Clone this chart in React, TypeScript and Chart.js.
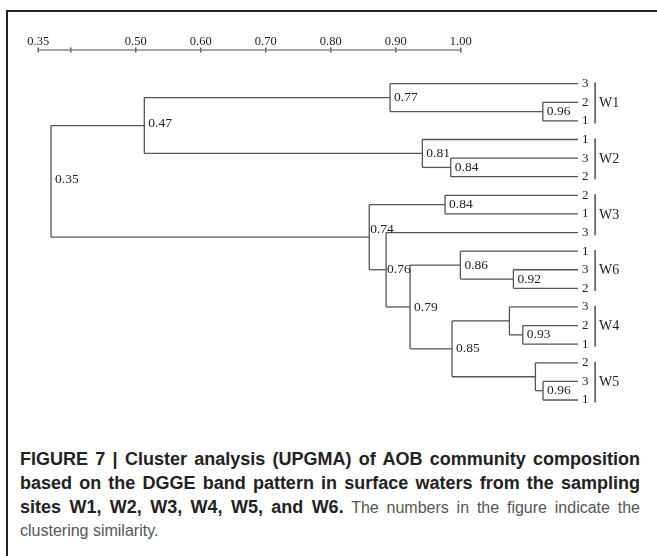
import React, { useEffect, useRef } from 'react';
import { Chart, registerables } from 'chart.js';

Chart.register(...registerables);

// Ruler (top scale)
const rulerTicks = [0.35, 0.4, 0.5, 0.6, 0.7, 0.8, 0.9, 1.0];
const rulerTickLabels = ['0.35', '', '0.50', '0.60', '0.70', '0.80', '0.90', '1.00'];

// Leaves, top to bottom
const leafLabels = ['3', '2', '1', '1', '3', '2', '2', '1', '3', '1', '3', '2', '3', '2', '1', '2', '3', '1'];
const groupNames = ['W1', 'W2', 'W3', 'W6', 'W4', 'W5'];
const groupFirstLeaf = [0, 3, 6, 9, 12, 15];
const groupLastLeaf = [2, 5, 8, 11, 14, 17];

// Internal nodes: id, position read on the ruler, printed similarity, children
const nodeIds = ['n96a', 'n77', 'n84a', 'n81', 'n47', 'n84b', 'n92', 'n86', 'n93', 'nW4', 'n96b', 'nW5', 'n85', 'n79', 'n76', 'n74', 'n35'];
const nodeX = [1.1262, 0.8912, 0.9846, 0.9409, 0.5132, 0.9758, 1.0809, 0.9994, 1.0954, 1.0748, 1.1265, 1.1148, 0.9866, 0.922, 0.8851, 0.8592, 0.3697];
const nodeLabels = ['0.96', '0.77', '0.84', '0.81', '0.47', '0.84', '0.92', '0.86', '0.93', '', '0.96', '', '0.85', '0.79', '0.76', '0.74', '0.35'];
const nodeChildren = [
  ['L1', 'L2'],
  ['L0', 'n96a'],
  ['L4', 'L5'],
  ['L3', 'n84a'],
  ['n77', 'n81'],
  ['L6', 'L7'],
  ['L10', 'L11'],
  ['L9', 'n92'],
  ['L13', 'L14'],
  ['L12', 'n93'],
  ['L16', 'L17'],
  ['L15', 'n96b'],
  ['nW4', 'nW5'],
  ['n86', 'n85'],
  ['L8', 'n79'],
  ['n84b', 'n76'],
  ['n47', 'n74'],
];

const LEAF_X = 1.1803; // where leaf branches end (right edge of the plot)
const BRACKET_X = 1.2066;
const RULER_Y = -1.81;

const LINE = '#555';
const SERIF = '"Liberation Serif", "Times New Roman", serif';

export default function App() {
  const ref = useRef<HTMLCanvasElement | null>(null);

  useEffect(() => {
    if (!ref.current) return;
    const pos: Record<string, { x: number; y: number }> = {};
    leafLabels.forEach((_, i) => {
      pos['L' + i] = { x: LEAF_X, y: i };
    });
    const nodeY: number[] = [];
    nodeIds.forEach((id, k) => {
      const ys = nodeChildren[k].map((c) => pos[c].y);
      const y = (Math.min(...ys) + Math.max(...ys)) / 2;
      pos[id] = { x: nodeX[k], y };
      nodeY.push(y);
    });

    const datasets: any[] = [];
    const seg = (a: { x: number; y: number }, b: { x: number; y: number }, color = LINE, w = 1.3) => {
      datasets.push({
        type: 'scatter',
        data: [a, b],
        showLine: true,
        borderColor: color,
        borderWidth: w,
        pointRadius: 0,
        clip: false,
      });
    };

    nodeIds.forEach((id, k) => {
      const ys = nodeChildren[k].map((c) => pos[c].y);
      seg({ x: nodeX[k], y: Math.min(...ys) }, { x: nodeX[k], y: Math.max(...ys) });
      nodeChildren[k].forEach((c) => {
        seg({ x: nodeX[k], y: pos[c].y }, { x: pos[c].x, y: pos[c].y });
      });
    });

    groupNames.forEach((_, g) => {
      seg({ x: BRACKET_X, y: groupFirstLeaf[g] - 0.06 }, { x: BRACKET_X, y: groupLastLeaf[g] + 0.14 }, '#333', 1.3);
    });

    // ruler
    seg({ x: rulerTicks[0], y: RULER_Y }, { x: rulerTicks[rulerTicks.length - 1], y: RULER_Y }, '#888', 1.5);
    datasets.push({
      type: 'scatter',
      data: rulerTicks.map((v) => ({ x: v, y: RULER_Y })),
      showLine: false,
      pointStyle: 'line',
      rotation: 90,
      pointRadius: 2.5,
      borderColor: '#555',
      borderWidth: 1.5,
      clip: false,
    });

    const labelPlugin = {
      id: 'dendroLabels',
      afterDatasetsDraw(chart: any) {
        const { ctx, scales } = chart;
        const xs = scales.x;
        const ys = scales.y;
        ctx.save();
        ctx.fillStyle = '#222';
        ctx.textBaseline = 'middle';
        ctx.textAlign = 'left';
        ctx.font = '13.5px ' + SERIF;
        nodeIds.forEach((id, k) => {
          if (!nodeLabels[k]) return;
          let dx = 4;
          let dy = 0;
          if (id === 'n74' || id === 'n76') dx = 1;
          if (id === 'n74') dy = -8;
          if (id === 'n35' || id === 'n47') dy = -2;
          ctx.fillText(nodeLabels[k], xs.getPixelForValue(nodeX[k]) + dx, ys.getPixelForValue(nodeY[k]) + dy);
        });
        ctx.font = '14px ' + SERIF;
        groupNames.forEach((name, g) => {
          const mid = (groupFirstLeaf[g] + groupLastLeaf[g]) / 2;
          ctx.fillText(name, xs.getPixelForValue(BRACKET_X) + 4, ys.getPixelForValue(mid) + 1);
        });
        ctx.restore();
      },
    };

    const chart = new Chart(ref.current, {
      type: 'scatter',
      data: { datasets },
      options: {
        animation: false,
        responsive: false,
        events: [],
        layout: { padding: { left: 20, top: 20, right: 59, bottom: 20 } },
        plugins: { legend: { display: false }, tooltip: { enabled: false } },
        scales: {
          x: {
            type: 'linear',
            position: 'top',
            min: 0.322,
            max: LEAF_X,
            grid: { display: false, drawTicks: false },
            border: { display: false },
            afterBuildTicks: (s: any) => {
              s.ticks = rulerTicks.map((v) => ({ value: v }));
            },
            afterFit: (s: any) => {
              s.height = 30;
            },
            ticks: {
              autoSkip: false,
              maxRotation: 0,
              padding: 1,
              color: '#222',
              font: { family: SERIF, size: 12.5 },
              callback: (_v: any, i: number) => rulerTickLabels[i],
            },
          },
          y: {
            type: 'linear',
            position: 'right',
            reverse: true,
            min: RULER_Y,
            max: leafLabels.length - 1,
            grid: { display: false, drawTicks: false },
            border: { display: false },
            afterBuildTicks: (s: any) => {
              s.ticks = leafLabels.map((_, i) => ({ value: i }));
            },
            afterFit: (s: any) => {
              s.width = 20;
            },
            ticks: {
              autoSkip: false,
              padding: 4,
              color: '#222',
              font: { family: SERIF, size: 13 },
              callback: (_v: any, i: number) => leafLabels[i],
            },
          },
        },
      },
      plugins: [labelPlugin],
    } as any);
    return () => chart.destroy();
  }, []);

  const capBold: React.CSSProperties = {
    fontWeight: 'bold',
    color: '#222',
    fontSize: 18,
  };
  const lineStyle: React.CSSProperties = { textAlign: 'justify', textAlignLast: 'justify' as any, whiteSpace: 'nowrap', height: 24 };

  return (
    <div>
      <div
        style={{
          position: 'absolute',
          left: 6,
          top: 10,
          width: 651,
          height: 546,
          borderLeft: '2px solid #222',
          borderTop: '2px solid #222',
          boxSizing: 'border-box',
        }}
      />
      <canvas ref={ref} width={657} height={420} style={{ position: 'absolute', left: 0, top: 0, display: 'block' }} />
      <div
        style={{
          position: 'absolute',
          left: 20,
          top: 447,
          width: 620,
          fontFamily: '"Liberation Sans", Arial, sans-serif',
          fontSize: 16,
          lineHeight: '24px',
          color: '#555',
        }}
      >
        <div style={{ ...lineStyle, ...capBold }}>FIGURE 7 | Cluster analysis (UPGMA) of AOB community composition</div>
        <div style={{ ...lineStyle, ...capBold }}>based on the DGGE band pattern in surface waters from the sampling</div>
        <div style={lineStyle}>
          <span style={capBold}>sites W1, W2, W3, W4, W5, and W6.</span> The numbers in the figure indicate the
        </div>
        <div style={{ height: 24 }}>clustering similarity.</div>
      </div>
    </div>
  );
}
